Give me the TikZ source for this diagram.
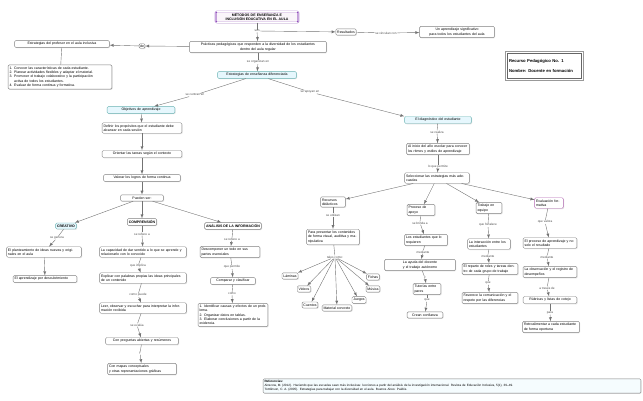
\documentclass[tikz,border=0pt]{standalone}
\usepackage{fontspec}
\setmainfont{Liberation Sans}
\usetikzlibrary{arrows,shadows,positioning}

\newcommand{\cmfont}{\fontsize{3.5}{4.3}\selectfont}
\newcommand{\labfont}{\fontsize{3.1}{3.7}\selectfont}
\tikzset{
  cbox/.style={draw=black!50, line width=.4pt, fill=white, rounded corners=1.2pt, inner xsep=1.4pt, inner ysep=1.8pt, align=left, font=\cmfont,
    drop shadow={shadow xshift=.8pt, shadow yshift=-.8pt, fill=black!22}},
  cboxb/.style={cbox, fill=cyan!10, draw=teal!60},
  lab/.style={fill=white, inner sep=.4pt, font=\labfont, text=black!70},
  ln/.style={draw=black!55, line width=.4pt},
  ar/.style={ln, -latex},
}

\begin{document}
\begin{tikzpicture}[x=1pt, y=-1pt]
\useasboundingbox (0,0) rectangle (643,401);
% encabezado
\node[cbox, double, draw=violet!75!blue, fill=violet!4, text width=80pt, align=center, font=\cmfont\bfseries] (tit) at (257,17) {MÉTODOS DE ENSEÑANZA E\\ INCLUSIÓN EDUCATIVA EN EL AULA};
\node[lab] (tl) at (257,31) {son};
\node[cbox, text width=134pt, align=center] (mb) at (258,47) {Prácticas pedagógicas que responden a la diversidad de los estudiantes\\ dentro del aula regular};
\node[lab] (ml) at (258,62) {se organizan en};
\node[cboxb, text width=76pt, align=center] (sub) at (257,75) {Estrategias de enseñanza diferenciada};
\node[cbox] (res) at (346,32) {Resultados};
\node[lab] (rl) at (386,33) {se vinculan con};
\node[cbox, text width=72pt, align=center] (rn) at (457,32) {Un aprendizaje significativo\\ para todos los estudiantes del aula};
\node[draw=black!60, line width=.5pt, fill=white, inner xsep=2pt, inner ysep=6pt, align=left, text width=70pt, font=\fontsize{4.2}{5}\selectfont\bfseries] (card) at (544,66) {Recurso Pedagógico No. 1\\[5pt] Nombre: Docente en formación};
\draw[black!40, line width=.4pt] ([xshift=-1.5pt, yshift=1.5pt]card.north west) rectangle ([xshift=1.5pt, yshift=-1.5pt]card.south east);
% izquierda arriba
\node[cbox, text width=92pt, align=center] (est) at (62,44) {Estrategias del profesor en el aula inclusiva};
\node[cbox, inner sep=1pt] (lk) at (142,46) {de};
\node[cbox, text width=101pt] (lst) at (60,77) {1. Conocer las características de cada estudiante.\\ 2. Planear actividades flexibles y adaptar el material.\\ 3. Promover el trabajo colaborativo y la participación\\ \phantom{3. }activa de todos los estudiantes.\\ 4. Evaluar de forma continua y formativa.};
\draw[ln] (tit) -- (tl);
\draw[ar] (tl) -- (mb);
\draw[ar] (tl) -- (res);
\draw[ln] (res) -- (rl);
\draw[ar] (rl) -- (rn);
\draw[ln] (mb) -- (ml);
\draw[ar] (ml) -- (sub);
\draw[ar] (mb) -- (lk);
\draw[ar] (lk) -- (est);
\draw[ln] (est) -- (lst);
% rama de objetivos
\node[cboxb, text width=65pt, align=center] (obj) at (141,110) {Objetivos de aprendizaje};
\node[cboxb, text width=64pt, align=center] (dg) at (438,120) {El diagnóstico del estudiante};
\node[lab] (sl1) at (195,95) {se centran en};
\node[lab] (sl2) at (310,92) {se apoyan en};
\node[cbox, text width=77pt] (o1) at (142,128) {Definir los propósitos que el estudiante debe alcanzar en cada sesión};
\node[cbox, text width=77pt, align=center] (o2) at (142,154) {Orientar las tareas según el contexto};
\node[cbox, text width=74pt, align=center] (o3) at (142,178) {Valorar los logros de forma continua};
\node[cbox, text width=40pt, align=center] (o4) at (142,198) {Pueden ser:};
\node[cboxb, font=\cmfont\bfseries] (cre) at (66,226) {CREATIVO};
\node[cbox, font=\cmfont\bfseries] (com) at (142,222) {COMPRENSIÓN};
\node[cbox, font=\cmfont\bfseries] (ana) at (233,226) {ANÁLISIS DE LA INFORMACIÓN};
\draw[ln] (sub) -- (sl1);
\draw[ar] (sl1) -- (obj);
\draw[ln] (sub) -- (sl2);
\draw[ar] (sl2) -- (dg.north west);
\draw[ar] (obj) -- (o1);
\draw[ar] (o1) -- (o2);
\draw[ar] (o2) -- (o3);
\draw[ar] (o3) -- (o4);
\draw[ar] (o4) -- (cre);
\draw[ar] (o4) -- (com);
\draw[ar] (o4) -- (ana);
% creativo
\node[lab] (cl1) at (57,238) {se genera};
\node[cbox, text width=72pt] (c1) at (44,252) {El planteamiento de ideas nuevas y originales en el aula};
\node[cbox, text width=61pt] (c2) at (45,279) {El aprendizaje por descubrimiento};
% comprension
\node[lab] (ml1) at (142,234) {se refiere a};
\node[cbox, text width=84pt] (m1) at (143,252) {La capacidad de dar sentido a lo que se aprende y relacionarlo con lo conocido};
\node[lab] (ml2) at (138,266) {que implica};
\node[cbox, text width=84pt] (m2) at (143,278) {Explicar con palabras propias las ideas principales de un contenido};
\node[lab] (ml3) at (138,295) {como puede};
\node[cbox, text width=84pt] (m3) at (143,308) {Leer, observar y escuchar para interpretar la información recibida};
\node[lab] (ml4) at (137,325) {se evalúa};
\node[cbox, text width=70pt, align=center] (m4) at (142,341) {Con preguntas abiertas y resúmenes};
\node[lab] (ml5) at (140,353) {y};
\node[cbox, text width=66pt] (m5) at (142,369) {Con mapas conceptuales\\ y otras representaciones gráficas};
% analisis
\node[lab] (al1) at (232,239) {se refiere a};
\node[cbox, text width=57pt] (a1) at (230,252) {Descomponer un todo en sus partes esenciales};
\node[lab] (al2) at (232,267) {que permite};
\node[cbox, text width=42pt, align=center] (a2) at (233,281) {Comparar y clasificar};
\node[lab] (al3) at (232,294) {como};
\node[cbox, text width=67pt] (a3) at (233,315) {1. Identificar causas y efectos de un problema.\\ 2. Organizar datos en tablas.\\ 3. Elaborar conclusiones a partir de la evidencia.};
\foreach \a/\l/\b in {com/ml1/m1, m1/ml2/m2, m2/ml3/m3, m3/ml4/m4, m4/ml5/m5,
                      cre/cl1/c1, ana/al1/a1, a1/al2/a2, a2/al3/a3}{
  \draw[ln] (\a) -- (\l);
  \draw[ar] (\l) -- (\b);
}
\draw[ar] (c1) -- (c2);
% rama del diagnostico
\node[lab] (dl1) at (437,132) {se realiza};
\node[cbox, text width=60pt] (d1) at (438,149) {Al inicio del año escolar para conocer los ritmos y estilos de aprendizaje};
\node[lab] (dl2) at (438,167) {lo que permite};
\node[cbox, text width=62pt] (d2) at (437,178) {Seleccionar las estrategias más adecuadas};
\node[cbox, text width=22pt] (p0) at (333,202) {Recursos didácticos};
\node[cbox, text width=25pt] (p1) at (421,210) {Proceso de apoyo};
\node[cbox, text width=23pt] (p2) at (489,208) {Trabajo en equipo};
\node[cbox, text width=26pt, draw=violet!60] (p3) at (549,203) {Evaluación formativa};
\draw[ar] (d2) -- (p0);
\draw[ar] (d2) -- (p1);
\draw[ar] (d2) -- (p2);
\draw[ar] (d2) -- (p3);
% recursos
\node[lab] (ql1) at (333,215) {se utilizan};
\node[cbox, text width=50pt] (q) at (333,237) {Para presentar los contenidos de forma visual, auditiva y manipulativa};
\node[lab] (fan) at (335,257) {tales como:};
\node[cbox] (f1) at (290,276) {Láminas};
\node[cbox] (f2) at (304,289) {Videos};
\node[cbox] (f3) at (310,305) {Cuentos};
\node[cbox] (f4) at (337,308) {Material concreto};
\node[cbox] (f5) at (359,300) {Juegos};
\node[cbox] (f6) at (373,289) {Música};
\node[cbox] (f7) at (373,277) {Fichas};
\foreach \f in {f1,f2,f3,f4,f5,f6,f7}
  \draw[ar] (fan) -- (\f);
% apoyo
\node[lab] (rl1) at (420,223) {se brinda a};
\node[cbox, text width=40pt] (r1) at (426,240) {Los estudiantes que lo requieren};
\node[lab] (rl2) at (423,252) {mediante};
\node[cbox, text width=68pt, align=center] (r2) at (420,265) {La ayuda del docente y el trabajo autónomo};
\node[lab] (rl3) at (425,278) {y};
\node[cbox, text width=25pt] (r3) at (427,289) {Tutorías entre pares};
\node[lab] (rl4) at (427,300) {que};
\node[cbox, text width=33pt, align=center] (r4) at (425,315) {Crean confianza};
% equipo
\node[lab] (sl3) at (488,225) {que fortalece};
\node[cbox, text width=40pt] (s1) at (489,244) {La interacción entre los estudiantes};
\node[lab] (sl4) at (488,256) {mediante};
\node[cbox, text width=53pt] (s2) at (490,269) {El reparto de roles y tareas dentro de cada grupo de trabajo};
\node[lab] (sl5) at (488,283) {que};
\node[cbox, text width=53pt] (s3) at (490,298) {Favorece la comunicación y el respeto por las diferencias};
% evaluacion
\node[lab] (tl1) at (545,222) {que valora};
\node[cbox, text width=51pt] (t1) at (550,243) {El proceso de aprendizaje y no solo el resultado};
\node[lab] (tl2) at (547,257) {mediante};
\node[cbox, text width=51pt] (t2) at (550,272) {La observación y el registro de desempeños};
\node[lab] (tl3) at (547,288) {a través de};
\node[cbox, text width=51pt, align=center] (t3) at (550,300) {Rúbricas y listas de cotejo};
\node[lab] (tl4) at (550,313) {para};
\node[cbox, text width=54pt] (t4) at (551,327) {Retroalimentar a cada estudiante de forma oportuna};
\foreach \a/\l/\b in {dg/dl1/d1, d1/dl2/d2, p0/ql1/q, p1/rl1/r1, r1/rl2/r2, r2/rl3/r3, r3/rl4/r4,
                      p2/sl3/s1, s1/sl4/s2, s2/sl5/s3, p3/tl1/t1, t1/tl2/t2, t2/tl3/t3, t3/tl4/t4}{
  \draw[ln] (\a) -- (\l);
  \draw[ar] (\l) -- (\b);
}
\draw[ln] (q) -- (fan);
% referencias
\node[cbox, fill=cyan!4, text width=375pt, font=\fontsize{3.1}{3.9}\selectfont] (rf) at (452,386) {\textbf{Referencias:}\\ Ainscow, M. (2012). Haciendo que las escuelas sean más inclusivas: lecciones a partir del análisis de la investigación internacional. Revista de Educación Inclusiva, 5(1), 39--49.\\ Tomlinson, C. A. (2005). Estrategias para trabajar con la diversidad en el aula. Buenos Aires: Paidós.};
\end{tikzpicture}
\end{document}
